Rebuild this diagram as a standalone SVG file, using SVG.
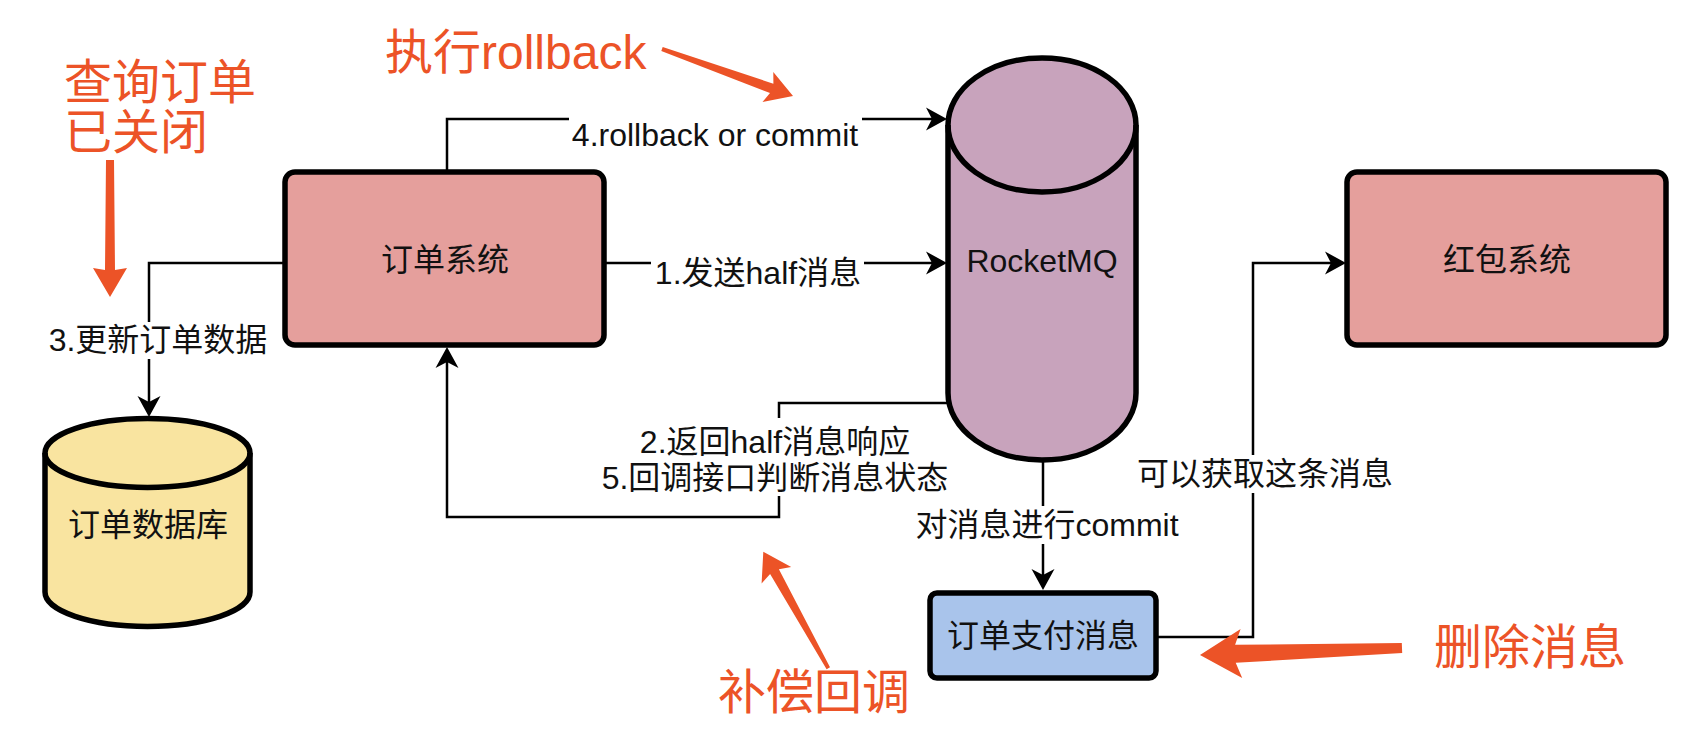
<svg xmlns="http://www.w3.org/2000/svg" width="1694" height="742" viewBox="0 0 1694 742">
<style>
text{font-family:"Liberation Sans","Noto Sans CJK SC",sans-serif;dominant-baseline:central}
.lbl{font-size:32px;fill:#111;text-anchor:middle}
.note{font-size:48px;fill:#EC5327}
.node{stroke:#000;stroke-width:5.5;stroke-linejoin:round}
.edge{fill:none;stroke:#000;stroke-width:2.5}
.bg{fill:#fff}
.ann{fill:#EC5327}
</style>
<defs>
<marker id="arr" markerUnits="userSpaceOnUse" viewBox="-22 -12 23 24" markerWidth="23" markerHeight="24" refX="-10" refY="0" orient="auto">
<path d="M0,0 L-21,-11.5 L-15,0 L-21,11.5 Z" fill="#000"/>
</marker>
</defs>
<rect width="1694" height="742" fill="#fff"/>

<g id="connectors">
<path class="edge" d="M447,172 V119 H937" marker-end="url(#arr)"/>
<rect class="bg" x="569" y="116" width="293" height="38"/>
<text class="lbl" x="715" y="135">4.rollback or commit</text>

<path class="edge" d="M604,263 H937" marker-end="url(#arr)"/>
<rect class="bg" x="651" y="255" width="213" height="36"/>
<text class="lbl" x="758" y="273">1.发送half消息</text>

<path class="edge" d="M285,263 H149 V407" marker-end="url(#arr)"/>
<rect class="bg" x="46" y="322" width="224" height="37"/>
<text class="lbl" x="158" y="340">3.更新订单数据</text>

<path class="edge" d="M948,403 H779 V517 H447 V357" marker-end="url(#arr)"/>
<rect class="bg" x="598" y="418" width="354" height="78"/>
<text class="lbl" x="775" y="442">2.返回half消息响应</text>
<text class="lbl" x="775" y="478">5.回调接口判断消息状态</text>

<path class="edge" d="M1043,460 V580" marker-end="url(#arr)"/>
<rect class="bg" x="913" y="506" width="269" height="38"/>
<text class="lbl" x="1047" y="525">对消息进行commit</text>

<path class="edge" d="M1156,637 H1253 V263 H1336" marker-end="url(#arr)"/>
<rect class="bg" x="1135" y="455" width="260" height="38"/>
<text class="lbl" x="1265" y="474">可以获取这条消息</text>
</g>

<g id="order-system">
<rect class="node" x="285" y="172" width="319" height="173" rx="10" fill="#E59F9C"/>
<text class="lbl" x="445" y="260">订单系统</text>
</g>

<g id="rocketmq">
<path class="node" d="M948,125 A94,67 0 0 1 1136,125 V393 A94,67 0 0 1 948,393 Z" fill="#C8A3BC"/>
<path class="node" d="M948,125 A94,67 0 0 0 1136,125" fill="none"/>
<text class="lbl" x="1042" y="261">RocketMQ</text>
</g>

<g id="redpacket-system">
<rect class="node" x="1347" y="172" width="319" height="173" rx="10" fill="#E59F9C"/>
<text class="lbl" x="1507" y="260">红包系统</text>
</g>

<g id="order-db">
<path class="node" d="M45,453 A102.5,34.5 0 0 1 250,453 V592 A102.5,34.5 0 0 1 45,592 Z" fill="#F9E4A0"/>
<path class="node" d="M45,453 A102.5,34.5 0 0 0 250,453" fill="none"/>
<text class="lbl" x="148" y="525">订单数据库</text>
</g>

<g id="pay-message">
<rect class="node" x="930" y="593" width="226" height="85" rx="7" fill="#A9C4EB"/>
<text class="lbl" x="1043" y="636">订单支付消息</text>
</g>

<g id="annotations">
<text class="note" x="64" y="82">查询订单</text>
<text class="note" x="64" y="132">已关闭</text>
<polygon class="ann" points="106,160 105,270 93,268 110,297 127,268 115,270 114,160"/>

<text class="note" x="385" y="52">执行rollback</text>
<polygon class="ann" points="661.3,50.9 770.0,93.1 762.5,102.1 793,96 773.3,71.9 773.4,83.7 662.7,47.1"/>

<text class="note" x="718" y="692">补偿回调</text>
<polygon class="ann" points="830.0,667.3 778.9,569.3 791.2,566.9 763.3,551.7 761.6,583.5 770.1,574.1 826.6,669.3"/>

<text class="note" x="1434" y="647">删除消息</text>
<polygon class="ann" points="1401.8,643.0 1235.1,644.8 1240.6,629.1 1200,655 1242.2,678.1 1235.7,662.8 1402.2,653.0"/>
</g>
</svg>
